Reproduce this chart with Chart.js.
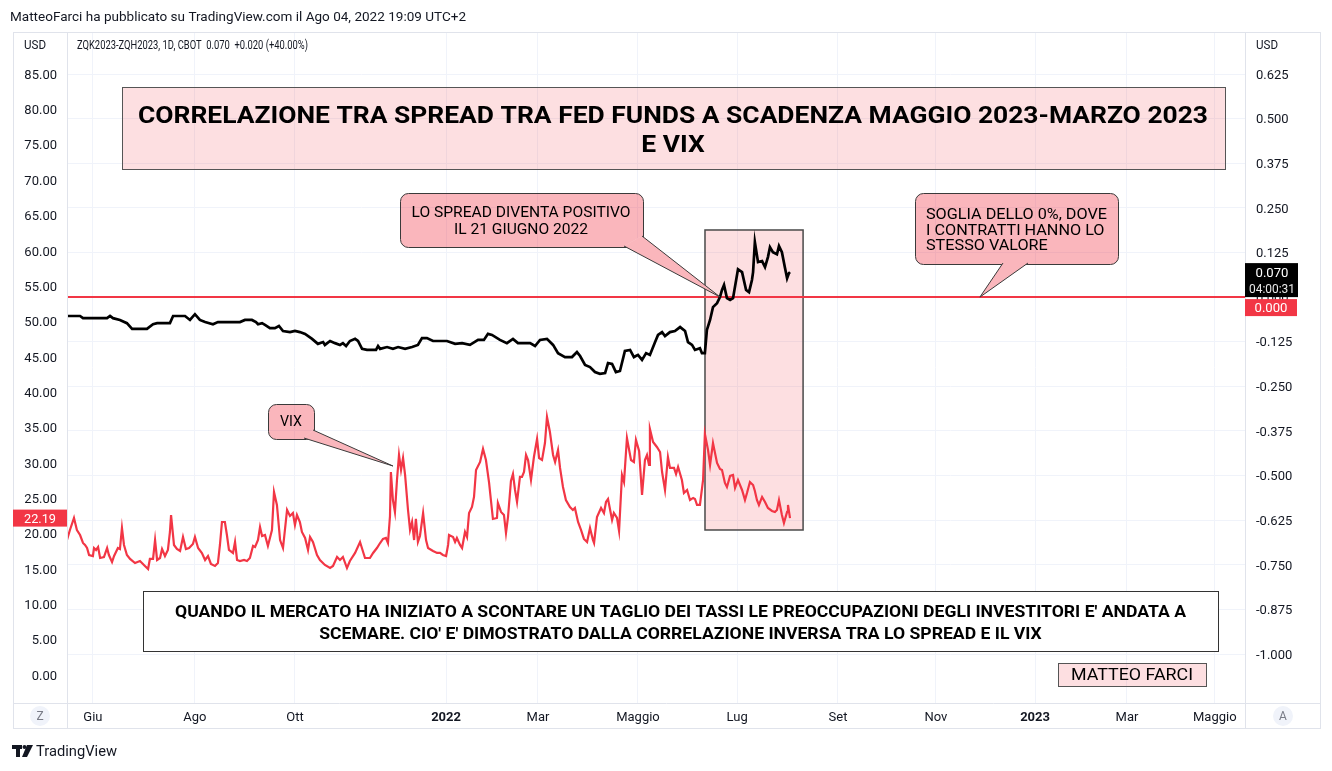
<!DOCTYPE html>
<html><head><meta charset="utf-8">
<script src="https://cdn.jsdelivr.net/npm/chart.js@4.4.1/dist/chart.umd.min.js"></script>
<style>
html,body{margin:0;padding:0;background:#fff;overflow:hidden}
canvas{display:block}
</style></head><body>
<canvas id="c" width="1332" height="771"></canvas>
<script>
// ---- data (x = trading-day index from mid-May 2021) ----
const spreadDays = [0,5.8,7.1,17.8,19.1,20.4,23.5,26.6,28.9,35.5,38.2,40,45.7,47.1,52.4,54.6,56.8,59,61.3,64.8,67,76.8,79,82.1,83.9,84.8,86.6,87.9,90.1,92.3,94.1,95.9,99,101.2,103.4,105.7,108.8,111.4,113.7,114.5,116.8,119,121.2,122.5,123.9,125.6,127.9,129.2,131,133.2,137.2,138.1,139,142.1,144.7,147,150.1,153.2,155.8,157.6,159.8,162.5,168.7,172.3,175.4,178.9,182.5,185.1,186.9,188.7,192.2,195.3,198,200.2,205.6,207.8,210,213.1,215.8,218,221.1,224.2,226.4,227.8,230,232.2,234.4,236.6,238.9,240.2,242,243.7,245.5,247.7,250,251.7,253.5,255.3,257.1,258.8,261.1,262.4,264.2,265.5,267.7,269.9,272.2,274.4,275.7,277.5,278.8,281,281.9,283.2,284.1,285.5,286.8,288.6,289.9,290.8,291.7,293,294.4,295.7,297.9,299.7,301.5,302.8,304.1,304.6,305.4,306.8,308.6,309.9,311.2,312.1,313.4,315.2,316.1,317.4,318.8,319.7,320.5,321];
const spreadValues = [-0.053,-0.053,-0.059,-0.059,-0.053,-0.059,-0.064,-0.073,-0.089,-0.089,-0.076,-0.073,-0.073,-0.053,-0.053,-0.064,-0.048,-0.064,-0.070,-0.076,-0.070,-0.070,-0.064,-0.064,-0.070,-0.076,-0.073,-0.078,-0.087,-0.087,-0.081,-0.095,-0.098,-0.095,-0.098,-0.103,-0.117,-0.131,-0.126,-0.134,-0.123,-0.129,-0.134,-0.129,-0.137,-0.123,-0.117,-0.123,-0.145,-0.148,-0.148,-0.137,-0.145,-0.140,-0.145,-0.140,-0.145,-0.140,-0.134,-0.115,-0.115,-0.123,-0.123,-0.131,-0.129,-0.134,-0.120,-0.120,-0.103,-0.106,-0.120,-0.129,-0.117,-0.129,-0.129,-0.137,-0.120,-0.117,-0.134,-0.157,-0.168,-0.168,-0.154,-0.165,-0.190,-0.196,-0.210,-0.215,-0.213,-0.185,-0.187,-0.210,-0.207,-0.151,-0.148,-0.168,-0.162,-0.176,-0.157,-0.162,-0.126,-0.106,-0.098,-0.109,-0.098,-0.095,-0.084,-0.095,-0.126,-0.134,-0.148,-0.143,-0.157,-0.157,-0.092,-0.064,-0.028,-0.017,0.000,0.020,0.034,-0.003,-0.008,-0.003,0.078,0.070,0.020,0.014,0.048,0.070,0.154,0.098,0.101,0.084,0.112,0.140,0.126,0.120,0.143,0.126,0.081,0.053,0.067,0.070];
const vixDays = [0,1.3,3.1,4.4,5.8,7.1,8,8.9,9.8,11.5,12,12.9,13.8,14.7,16.4,17.8,18.6,20,20.9,22.6,23.5,24.4,25.3,26.6,28,30.2,32.4,34.6,36,36.8,38.2,39.1,40,41.3,42.2,43.5,44.8,45.7,46.2,47.5,48.8,50.2,51.5,52.8,54.2,55.9,56.8,58.2,59.9,61.3,62.6,63.9,65.7,67,67.9,68.8,70.1,71,71.9,73.7,74.6,75.5,76.8,78.6,79.9,81.2,82.6,83.5,84.8,85.7,86.6,87.9,89.2,91,91.9,93.2,94.6,95.9,97.7,99,100.3,101.2,102.1,103.4,104.3,105.7,107,107.9,109.2,111,112.3,114.5,116.8,118.1,119.9,121.2,122.5,124.3,125.6,127.9,130.1,132.3,134.5,135.9,137.6,139,140.3,141.6,142.5,143.4,143.8,144.7,145.6,146.5,147.4,148.3,149.2,150.1,151.4,152.3,153.2,154.1,154.9,155.8,156.7,158.1,159.4,160.3,162.5,164.3,165.6,166.9,168.3,169.2,169.6,171.4,172.3,173.1,174.5,175.4,176.7,177.6,178.5,179.8,180.7,181.6,183.4,184.7,186,187.4,188.2,189.1,190.9,191.3,192.7,194,194.9,195.8,197.1,198,198.9,199.8,201.1,202,202.9,203.8,204.7,206,207.3,208.7,209.6,210.9,212.2,213.1,214.4,215.8,216.7,218,218.9,220.2,221.5,223.3,224.6,225.5,226.9,228.2,229.5,230.9,232.2,233.5,234,235.3,237.1,238.4,239.3,240.2,242,242.8,244.2,245.1,246.4,247.3,248.6,250.4,251.7,252.6,254,255.3,256.6,257.5,258.4,258.8,260.2,261.9,263.3,264.2,265.5,266.8,267.7,269.5,270.4,271.3,273,273.9,275.3,276.6,278,278.8,279.7,281,282.4,283.2,284.6,285.5,286.8,288.6,289.9,290.8,292.1,293,294.4,295.7,296.6,297.9,299.7,301,301.9,303.2,304.6,305.4,306.3,307.2,308.6,309.9,311.2,313,314.3,315.2,316.1,317.4,318.3,319.7,320.1,321];
const vixValues = [19.09,20.51,22.21,20.51,19.80,18.67,18.39,17.96,16.97,16.83,17.96,17.68,18.10,16.55,16.69,17.96,16.97,15.98,16.83,17.96,17.82,20.79,18.39,16.97,16.41,15.84,16.12,15.42,14.99,16.41,16.41,19.09,16.27,16.55,17.82,16.83,17.68,20.23,22.63,18.39,17.82,17.54,19.52,17.82,17.96,18.53,19.52,17.96,17.26,16.27,16.83,15.70,15.42,15.84,18.39,21.64,21.64,19.80,17.68,17.26,18.81,16.27,16.12,16.27,16.12,16.55,18.25,18.10,19.09,20.93,19.66,19.80,18.25,20.51,25.88,24.05,19.09,17.96,23.34,22.49,22.91,21.22,22.63,21.64,20.23,19.38,17.68,19.52,18.81,16.97,16.27,15.56,15.13,15.42,16.69,16.27,16.69,15.13,16.12,17.26,18.81,16.55,16.55,17.26,17.96,18.67,19.24,19.38,18.67,22.49,28.71,24.75,23.06,27.58,31.12,29.00,30.69,28.29,23.34,20.51,21.64,19.09,22.07,18.81,19.66,22.91,19.09,17.96,17.54,17.26,17.26,16.97,16.83,18.39,19.80,19.52,18.81,19.38,18.39,17.96,20.23,19.52,22.91,23.76,25.18,29.00,30.13,31.97,30.41,27.16,24.75,22.07,22.21,24.33,23.06,22.63,20.08,22.35,27.44,28.43,26.17,24.47,28.01,28.01,28.71,31.12,30.41,27.58,30.83,33.38,30.69,30.41,32.81,36.49,34.37,31.12,30.13,31.82,29.28,26.59,24.75,23.76,23.34,23.62,21.64,20.51,19.24,18.81,20.79,19.09,18.67,22.35,23.62,22.91,24.47,24.89,21.92,22.91,22.21,20.37,28.29,27.30,33.52,30.41,30.13,33.24,31.68,25.46,30.41,31.12,29.70,34.79,32.96,32.25,31.54,28.71,26.17,30.83,29.28,29.28,28.43,29.42,27.58,25.74,26.17,24.75,25.04,24.89,24.05,24.05,27.58,34.09,31.82,29.70,32.81,29.99,29.14,29.00,27.16,26.59,28.15,28.29,26.45,27.58,26.17,24.75,25.74,27.30,26.87,26.03,24.75,24.05,25.18,24.47,23.62,23.20,23.06,23.34,24.75,22.63,21.50,23.06,24.05,22.19];
const monthTickDays = [11.5,56.8,101.2,168.3,209.1,253.5,297.5,342.3,385.8,429.8,470.6,509.6];
const monthTickLabels = ['Giu','Ago','Ott','2022','Mar','Maggio','Lug','Set','Nov','2023','Mar','Maggio'];
const vixTicks = [0,5,10,15,20,25,30,35,40,45,50,55,60,65,70,75,80,85];
const spreadTicks = [0.625,0.5,0.375,0.25,0.125,0,-0.125,-0.25,-0.375,-0.5,-0.625,-0.75,-0.875,-1];
const shadeRange = {x0:283.25, x1:326.8, yTop:0.188, yBottom:-0.6525};
const spreadTip = {x:290, y:0};
const sogliaTip = {x:405.3, y:0};
const vixTip = {x:144.7, y:29.56};

const FONT = 'Roboto, "Liberation Sans", sans-serif';
const TXT = '#131722';
const PINK = 'rgba(242,54,69,0.36)';
const LPINK = 'rgba(242,54,69,0.16)';

function rrect(ctx,x,y,w,h,r){
  ctx.beginPath();
  ctx.moveTo(x+r,y); ctx.arcTo(x+w,y,x+w,y+h,r); ctx.arcTo(x+w,y+h,x,y+h,r);
  ctx.arcTo(x,y+h,x,y,r); ctx.arcTo(x,y,x+w,y,r); ctx.closePath();
}
function blockText(ctx, lines, size, weight, color, align, x, ys, targetW){
  ctx.save();
  ctx.font = (weight ? weight+' ' : '') + size + 'px ' + FONT;
  const maxW = Math.max(...lines.map(l=>ctx.measureText(l).width));
  const s = targetW ? targetW/maxW : 1;
  const dy = size*0.09;
  ctx.fillStyle = color; ctx.textBaseline = 'middle'; ctx.textAlign = align;
  lines.forEach((l,i)=>{ ctx.save(); ctx.translate(x, ys[i]+dy); ctx.scale(s,1); ctx.fillText(l,0,0); ctx.restore(); });
  ctx.restore();
}
function callout(ctx, b, b1, b2, tip, lines, align, tx, ys, tw){
  ctx.save();
  rrect(ctx,b.x+0.5,b.y+0.5,b.w,b.h,8);
  ctx.fillStyle = PINK; ctx.fill();
  ctx.strokeStyle = '#3a3a3a'; ctx.lineWidth = 1; ctx.stroke();
  ctx.beginPath(); ctx.moveTo(b1[0],b1[1]); ctx.lineTo(tip[0],tip[1]); ctx.lineTo(b2[0],b2[1]); ctx.closePath();
  ctx.fillStyle = '#fff'; ctx.fill();
  ctx.fillStyle = PINK; ctx.fill();
  ctx.beginPath(); ctx.moveTo(b1[0],b1[1]); ctx.lineTo(tip[0],tip[1]); ctx.lineTo(b2[0],b2[1]);
  ctx.strokeStyle = '#3a3a3a'; ctx.stroke();
  ctx.restore();
  blockText(ctx, lines, 15, '', '#000', align, tx, ys, tw);
}

const decor = {
  id:'decor',
  beforeDatasetsDraw(chart){
    const {ctx, chartArea:a, scales:{x, ySpread}} = chart;
    ctx.save();
    const x0 = x.getPixelForValue(shadeRange.x0), x1 = x.getPixelForValue(shadeRange.x1);
    const y0 = ySpread.getPixelForValue(shadeRange.yTop), y1 = ySpread.getPixelForValue(shadeRange.yBottom);
    ctx.fillStyle = LPINK; ctx.fillRect(x0,y0,x1-x0,y1-y0);
    ctx.strokeStyle = '#4a4a4a'; ctx.lineWidth = 1.5; ctx.strokeRect(x0,y0,x1-x0,y1-y0);
    const zy = ySpread.getPixelForValue(0);
    ctx.strokeStyle = '#f23645'; ctx.lineWidth = 2;
    ctx.beginPath(); ctx.moveTo(a.left,zy); ctx.lineTo(a.right,zy); ctx.stroke();
    ctx.restore();
  },
  afterDatasetsDraw(chart){
    const {ctx, scales:{x, ySpread, yVix}} = chart;
    ctx.save();
    ctx.fillStyle = LPINK; ctx.fillRect(122.5,87.5,1103,82);
    ctx.strokeStyle = '#555'; ctx.lineWidth = 1; ctx.strokeRect(122.5,87.5,1103,82);
    ctx.restore();
    blockText(ctx, ['CORRELAZIONE TRA SPREAD TRA FED FUNDS A SCADENZA MAGGIO 2023-MARZO 2023','E VIX'],
      24, 'bold', '#000', 'center', 673, [115,144], 1070);
    const st = [x.getPixelForValue(spreadTip.x), ySpread.getPixelForValue(spreadTip.y)];
    callout(ctx,{x:400,y:193,w:243,h:54},[624,246],[642,236],st,
      ['LO SPREAD DIVENTA POSITIVO','IL 21 GIUGNO 2022'],'center',521,[212,229],219);
    const so = [x.getPixelForValue(sogliaTip.x), ySpread.getPixelForValue(sogliaTip.y)];
    callout(ctx,{x:915,y:193,w:203,h:71},[1003,263],[1028,263],so,
      ['SOGLIA DELLO 0%, DOVE','I CONTRATTI HANNO LO','STESSO VALORE'],'left',926,[214,229.5,245],181);
    const vt = [x.getPixelForValue(vixTip.x), yVix.getPixelForValue(vixTip.y)];
    callout(ctx,{x:268,y:404,w:46,h:35},[313,430],[304,438],vt,['VIX'],'center',291,[421],22);
    ctx.save();
    ctx.fillStyle = '#fff'; ctx.fillRect(143.5,591.5,1075,60);
    ctx.strokeStyle = '#333'; ctx.lineWidth = 1; ctx.strokeRect(143.5,591.5,1075,60);
    ctx.restore();
    blockText(ctx, ["QUANDO IL MERCATO HA INIZIATO A SCONTARE UN TAGLIO DEI TASSI LE PREOCCUPAZIONI DEGLI INVESTITORI E' ANDATA A",
      "SCEMARE. CIO' E' DIMOSTRATO DALLA CORRELAZIONE INVERSA TRA LO SPREAD E IL VIX"],
      16, 'bold', '#000', 'center', 680.5, [612,634], 1011);
    ctx.save();
    ctx.fillStyle = LPINK; ctx.fillRect(1058.5,663.5,148,23);
    ctx.strokeStyle = '#555'; ctx.lineWidth = 1; ctx.strokeRect(1058.5,663.5,148,23);
    ctx.restore();
    blockText(ctx, ['MATTEO FARCI'], 16, '', '#000', 'center', 1132, [675], 122);
  },
  afterDraw(chart){
    const {ctx, scales:{ySpread, yVix}} = chart;
    ctx.save();
    ctx.strokeStyle = '#e0e3eb'; ctx.lineWidth = 1;
    ctx.strokeRect(13.5,32.5,1307,696);
    ctx.beginPath();
    ctx.moveTo(67.5,32); ctx.lineTo(67.5,728);
    ctx.moveTo(1245.5,32); ctx.lineTo(1245.5,728);
    ctx.moveTo(13,703.5); ctx.lineTo(1320,703.5);
    ctx.stroke();
    ctx.restore();
    blockText(ctx, ['MatteoFarci ha pubblicato su TradingView.com il Ago 04, 2022 19:09 UTC+2'], 13, '', TXT, 'left', 10, [17], 456);
    blockText(ctx, ['USD'], 12, '', TXT, 'left', 24, [45], 22);
    blockText(ctx, ['USD'], 12, '', TXT, 'left', 1256, [45], 22);
    blockText(ctx, ['ZQK2023-ZQH2023, 1D, CBOT  0.070  +0.020 (+40.00%)'], 12, '', TXT, 'left', 77, [45], 231);
    const lastV = vixValues[vixValues.length-1];
    const vy = yVix.getPixelForValue(lastV);
    ctx.save();
    ctx.fillStyle = '#f23645'; ctx.fillRect(13,vy-8.5,54,17);
    const lastS = spreadValues[spreadValues.length-1];
    const sy = ySpread.getPixelForValue(lastS);
    ctx.fillStyle = '#000'; ctx.fillRect(1245,sy-9,53,34);
    const zy = ySpread.getPixelForValue(0);
    ctx.fillStyle = '#f23645'; ctx.fillRect(1245,zy+2,52,17);
    ctx.restore();
    blockText(ctx, [lastV.toFixed(2)], 13, '', '#fff', 'center', 40, [vy], 32);
    blockText(ctx, [lastS.toFixed(3)], 13, '', '#fff', 'center', 1272, [sy], 33);
    blockText(ctx, ['04:00:31'], 13, '', '#e8e8e8', 'center', 1272, [sy+16], 46);
    blockText(ctx, ['0.000'], 13, '', '#fff', 'center', 1271, [zy+10], 33);
    ctx.save();
    ctx.fillStyle = '#f0f3fa';
    ctx.beginPath(); ctx.arc(40,716,10,0,Math.PI*2); ctx.fill();
    ctx.beginPath(); ctx.arc(1283,716,10,0,Math.PI*2); ctx.fill();
    ctx.restore();
    blockText(ctx, ['Z'], 12, '', '#787b86', 'center', 40, [716]);
    blockText(ctx, ['A'], 12, '', '#787b86', 'center', 1283, [716]);
    ctx.save();
    ctx.fillStyle = '#131722';
    ctx.fillRect(12,745,10,4); ctx.fillRect(16,745,4,12);
    ctx.beginPath(); ctx.arc(24.5,747,2,0,Math.PI*2); ctx.fill();
    ctx.beginPath(); ctx.moveTo(27,745); ctx.lineTo(33,745); ctx.lineTo(27,757); ctx.lineTo(22,757); ctx.closePath(); ctx.fill();
    ctx.restore();
    blockText(ctx, ['TradingView'], 14, '', TXT, 'left', 36, [751], 81);
  }
};

function zeroPad(s){ s.paddingTop=0; s.paddingBottom=0; s.paddingLeft=0; s.paddingRight=0; }

new Chart(document.getElementById('c'), {
  type:'line',
  data:{datasets:[
    {label:'ZQK2023-ZQH2023', data: spreadDays.map((d,i)=>({x:d,y:spreadValues[i]})), yAxisID:'ySpread',
     borderColor:'#000', borderWidth:2.7, pointRadius:0, tension:0, fill:false, order:1},
    {label:'VIX', data: vixDays.map((d,i)=>({x:d,y:vixValues[i]})), yAxisID:'yVix',
     borderColor:'#f23645', borderWidth:2.2, pointRadius:0, tension:0, fill:false, order:2}
  ]},
  options:{
    responsive:false, animation:false, devicePixelRatio:1,
    layout:{padding:{left:13,right:12,top:32,bottom:43}},
    plugins:{legend:{display:false}, tooltip:{enabled:false}},
    scales:{
      x:{type:'linear', position:'bottom', min:0, max:523,
        afterBuildTicks:s=>{ s.ticks = monthTickDays.map(v=>({value:v})); },
        afterFit:s=>{ s.height=25; zeroPad(s); },
        ticks:{autoSkip:false, maxRotation:0, padding:7, color:TXT,
          callback:(v,i)=>monthTickLabels[i],
          font:c=>({family:FONT, size:13, weight:/^\d{4}$/.test(monthTickLabels[c.index]||'')?'bold':'normal'})},
        grid:{color:'#f0f3fa', drawTicks:false}, border:{display:false}},
      yVix:{type:'linear', position:'left', min:-3.96, max:90.94,
        afterBuildTicks:s=>{ s.ticks = vixTicks.map(v=>({value:v})); },
        afterFit:s=>{ s.width=54; zeroPad(s); },
        ticks:{padding:10, labelOffset:1.5, color:TXT, font:{family:FONT,size:13}, callback:v=>Number(v).toFixed(2)},
        grid:{display:false, drawTicks:false}, border:{display:false}},
      ySpread:{type:'linear', position:'right', min:-1.1372, max:0.7427,
        afterBuildTicks:s=>{ s.ticks = spreadTicks.map(v=>({value:v})); },
        afterFit:s=>{ s.width=75; zeroPad(s); },
        ticks:{padding:11, labelOffset:1.5, color:TXT, font:{family:FONT,size:13}, callback:v=>Number(v).toFixed(3)},
        grid:{color:'#f0f3fa', drawTicks:false}, border:{display:false}}
    }
  },
  plugins:[decor]
});
</script>
</body></html>
